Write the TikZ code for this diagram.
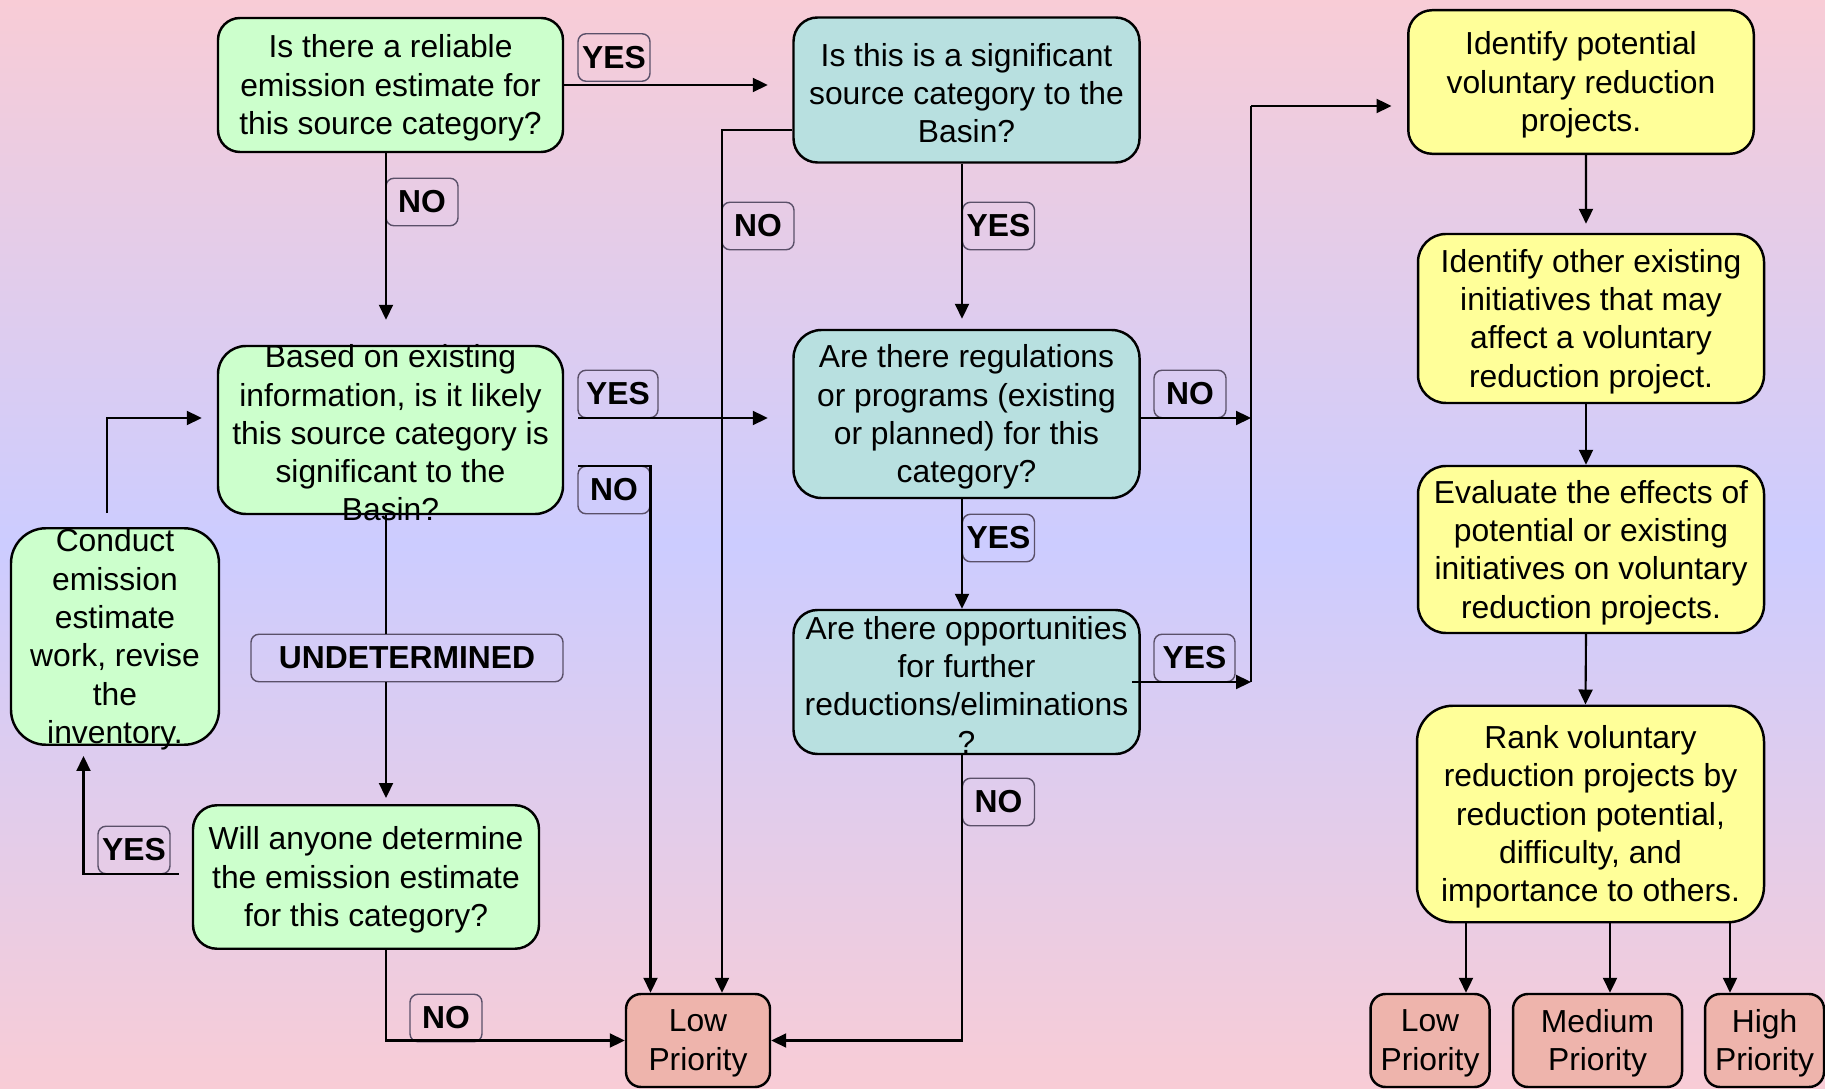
\documentclass[tikz,border=0pt]{standalone}
\usepackage{fontspec}
\setmainfont{Liberation Sans}
\usetikzlibrary{arrows.meta}
\definecolor{bgpink}{RGB}{248,204,214}
\definecolor{bgblue}{RGB}{204,204,255}
\definecolor{qgreen}{RGB}{204,255,204}
\definecolor{qteal}{RGB}{184,224,224}
\definecolor{qyellow}{RGB}{255,255,153}
\definecolor{qsalmon}{RGB}{238,180,172}
\definecolor{tagline}{RGB}{90,80,105}

\begin{document}
\begin{tikzpicture}[scale=1,
    box/.style={draw,line width=0.7pt,rounded corners=0.25cm,inner sep=0pt},
    txt/.style={align=center,yshift=-0.3mm,font=\fontsize{9.05pt}{10.9pt}\selectfont},
    tag/.style={draw=tagline,line width=0.4pt,rounded corners=0.08cm,
      minimum width=0.72cm,minimum height=0.475cm,inner sep=0pt,
      font=\fontsize{9.05pt}{10.9pt}\selectfont\bfseries},
    flow/.style={-{Triangle[length=1.5mm,width=1.4mm]},line width=0.6pt}]
    %BACKGROUND
    \useasboundingbox (0,0) rectangle (18.25,10.88);
    \shade[top color=bgpink,bottom color=bgpink,middle color=bgblue]
      (0,0) rectangle (18.25,10.88);

    %GREEN
    \node[box,fill=qgreen,minimum width=3.45cm,minimum height=1.34cm,rounded corners=0.22cm,
      label={[txt]center:{Is there a reliable\\emission estimate for\\this source category?}}]
      (reliable) at (3.905,10.03) {};
    \node[box,fill=qgreen,minimum width=3.45cm,minimum height=1.68cm,rounded corners=0.28cm,
      label={[txt]center:{Based on existing\\information, is it likely\\this source category is\\significant to the\\Basin?}}]
      (likely) at (3.905,6.58) {};
    \node[box,fill=qgreen,minimum width=2.08cm,minimum height=2.165cm,rounded corners=0.35cm,
      label={[txt]center:{Conduct\\emission\\estimate\\work, revise\\the\\inventory.}}]
      (conduct) at (1.15,4.515) {};
    \node[box,fill=qgreen,minimum width=3.46cm,minimum height=1.435cm,rounded corners=0.24cm,
      label={[txt]center:{Will anyone determine\\the emission estimate\\for this category?}}]
      (anyone) at (3.66,2.11) {};

    %TEAL
    \node[box,fill=qteal,minimum width=3.46cm,minimum height=1.45cm,rounded corners=0.24cm,
      label={[txt]center:{Is this is a significant\\source category to the\\Basin?}}]
      (signif) at (9.665,9.98) {};
    \node[box,fill=qteal,minimum width=3.46cm,minimum height=1.68cm,rounded corners=0.28cm,
      label={[txt]center:{Are there regulations\\or programs (existing\\or planned) for this\\category?}}]
      (regs) at (9.665,6.74) {};
    \node[box,fill=qteal,minimum width=3.46cm,minimum height=1.44cm,rounded corners=0.24cm,
      label={[txt]center:{Are there opportunities\\for further\\reductions/eliminations\\?}}]
      (opps) at (9.665,4.06) {};

    %YELLOW
    \node[box,fill=qyellow,minimum width=3.455cm,minimum height=1.436cm,rounded corners=0.24cm,
      label={[txt]center:{Identify potential\\voluntary reduction\\projects.}}]
      (ident) at (15.81,10.06) {};
    \node[box,fill=qyellow,minimum width=3.46cm,minimum height=1.69cm,rounded corners=0.28cm,
      label={[txt]center:{Identify other existing\\initiatives that may\\affect a voluntary\\reduction project.}}]
      (other) at (15.91,7.695) {};
    \node[box,fill=qyellow,minimum width=3.46cm,minimum height=1.67cm,rounded corners=0.28cm,
      label={[txt]center:{Evaluate the effects of\\potential or existing\\initiatives on voluntary\\reduction projects.}}]
      (evalu) at (15.91,5.385) {};
    \node[box,fill=qyellow,minimum width=3.47cm,minimum height=2.165cm,rounded corners=0.36cm,
      label={[txt]center:{Rank voluntary\\reduction projects by\\reduction potential,\\difficulty, and\\importance to others.}}]
      (rank) at (15.905,2.74) {};

    %PRIORITY
    \node[box,fill=qsalmon,minimum width=1.44cm,minimum height=0.93cm,rounded corners=0.15cm,
      label={[txt]center:{Low\\Priority}}] (lowA) at (6.98,0.475) {};
    \node[box,fill=qsalmon,minimum width=1.19cm,minimum height=0.93cm,rounded corners=0.15cm,
      label={[txt]center:{Low\\Priority}}] (lowB) at (14.30,0.475) {};
    \node[box,fill=qsalmon,minimum width=1.69cm,minimum height=0.93cm,rounded corners=0.15cm,
      label={[txt]center:{Medium\\Priority}}] (med) at (15.975,0.475) {};
    \node[box,fill=qsalmon,minimum width=1.19cm,minimum height=0.93cm,rounded corners=0.15cm,
      label={[txt]center:{High\\Priority}}] (high) at (17.645,0.475) {};

    %TAGS
    \node[tag] (yesA) at (6.14,10.305) {YES};
    \node[tag] (noA) at (4.22,8.86) {NO};
    \node[tag,minimum width=0.8cm] (yesB) at (6.18,6.94) {YES};
    \node[tag] (noB) at (6.14,5.98) {NO};
    \node[tag,minimum width=3.12cm] (undet) at (4.07,4.30) {UNDETERMINED};
    \node[tag] (yesW) at (1.34,2.38) {YES};
    \node[tag] (noW) at (4.46,0.70) {NO};
    \node[tag] (noS) at (7.58,8.62) {NO};
    \node[tag] (yesS) at (9.985,8.62) {YES};
    \node[tag] (yesR) at (9.985,5.50) {YES};
    \node[tag] (noO) at (9.985,2.86) {NO};
    \node[tag] (noR) at (11.90,6.94) {NO};
    \node[tag,minimum width=0.81cm] (yesO) at (11.945,4.30) {YES};

    %CONNECTORS
    \coordinate (col) at (3.86,0);
    \coordinate (mtop) at (12.51,9.82);
    \coordinate (mbot) at (12.51,4.06);

    \draw[flow,shorten >=2.45mm] (reliable.east) -- (reliable.east -| signif.west);
    \draw[flow,shorten >=2.5mm] (reliable.south -| col) -- (likely.north -| col);
    \draw[flow,shorten <=1.4mm,shorten >=2.45mm] ([yshift=1.2mm]likely.east)
      -- ([yshift=1.2mm]likely.east -| regs.west);
    \draw[flow,shorten <=1.4mm] ([yshift=-3.6mm]likely.east) -| ([xshift=-4.75mm]lowA.north);
    \draw (likely.south -| col) -- (undet.north -| col);
    \draw[flow,shorten >=0.6mm] (undet.south -| col) -- (anyone.north -| col);
    \draw[flow] (anyone.south -| col) |- (lowA.west);
    \draw[flow,shorten <=1.3mm,shorten >=1mm] ([yshift=0.3mm]anyone.west)
      -| ([xshift=-3.15mm]conduct.south);
    \draw[flow,shorten <=1.4mm,shorten >=1.5mm] ([xshift=-0.8mm]conduct.north)
      |- ([yshift=1.2mm]likely.west);

    \draw[flow] ([yshift=-4mm]signif.west) -| ([xshift=2.4mm]lowA.north);
    \draw[flow,shorten >=1mm] ([xshift=-0.45mm]signif.south) -- ([xshift=-0.45mm]regs.north);
    \draw[flow] ([xshift=-0.45mm]regs.south) -- ([xshift=-0.45mm]opps.north);
    \draw[flow] ([xshift=-0.45mm]opps.south) |- (lowA.east);
    \draw[flow] ([yshift=-0.4mm]regs.east) -- ([yshift=-0.4mm]regs.east -| mbot);
    \draw[flow] ([xshift=-0.9mm]opps.east) -- (opps.east -| mbot);
    \draw[line width=0.6pt] (mbot) -- (mtop);
    \draw[flow,shorten >=1.55mm] (mtop) -- (mtop -| ident.west);

    \draw[flow,shorten >=0.9mm] ([xshift=0.5mm]ident.south) -- ([xshift=-0.5mm]other.north);
    \draw[flow] ([xshift=-0.5mm]other.south) -- ([xshift=-0.5mm]evalu.north);
    \draw[flow] ([xshift=-0.5mm]evalu.south) -- ([xshift=-0.5mm]rank.north);
    \foreach \p/\dx in {lowB/3.6mm,med/1.25mm,high/-3.45mm}
      \draw[flow] ([xshift=\dx]\p.north |- rank.south) -- ([xshift=\dx]\p.north);
\end{tikzpicture}
\end{document}
